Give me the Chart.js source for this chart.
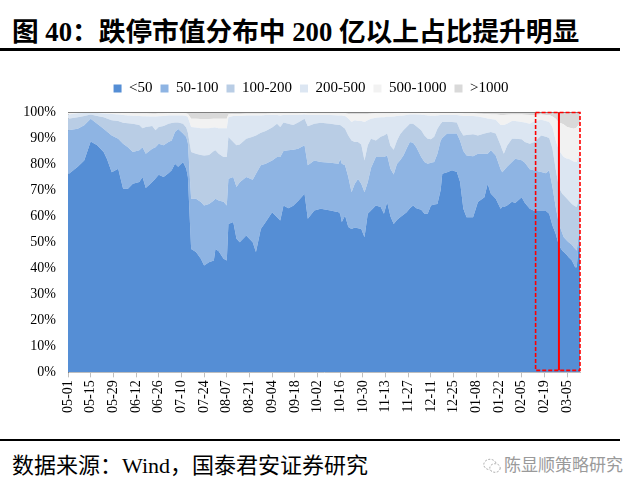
<!DOCTYPE html>
<html>
<head>
<meta charset="utf-8">
<script src="https://cdn.jsdelivr.net/npm/chart.js@4.4.0/dist/chart.umd.min.js"></script>
<style>
  body { margin: 0; background: #fff; width: 642px; height: 491px; position: relative; overflow: hidden; }
  #title { position: absolute; left: 12px; top: 10px; font: bold 26.7px "Liberation Serif", "Noto Sans CJK SC", serif; color: #000; white-space: nowrap; }
  .rule { position: absolute; left: 0; width: 620px; background: #000; }
  #chart { position: absolute; left: 0; top: 66px; }
  #source { position: absolute; left: 12px; top: 447px; font: 22px "Liberation Serif", "Noto Sans CJK SC", serif; color: #000; white-space: nowrap; }
  #mark { position: absolute; left: 483px; top: 451px; font: 17px "Noto Sans CJK SC", sans-serif; color: #9a9a9a; white-space: nowrap; }
  #mark svg { vertical-align: -3px; margin-right: 3px; }
</style>
</head>
<body>
<div id="title">图 40：跌停市值分布中 200 亿以上占比提升明显</div>
<div class="rule" style="top:48px;height:3px"></div>
<canvas id="chart" width="600" height="352"></canvas>
<div class="rule" style="top:439px;height:2px"></div>
<div id="source">数据来源：Wind，国泰君安证券研究</div>
<div id="mark"><svg width="18" height="16" viewBox="0 0 18 16"><ellipse cx="7" cy="6.5" rx="6.2" ry="5.2" fill="none" stroke="#aaa" stroke-width="1" stroke-dasharray="2 1.5"/><ellipse cx="12" cy="10" rx="5.2" ry="4.3" fill="#fff" stroke="#aaa" stroke-width="1" stroke-dasharray="2 1.5"/></svg>陈显顺策略研究</div>

<script>
// x = days since 05-01 (start of the sample), labels every 14 days
const startDate = Date.UTC(2022, 4, 1);
const days = [0,6,10,14,18,22,24,27,31,34,
  37,40,44,46,48,52,54,56,59,62,
  64,66,68,71,73,74,76,79,82,84,
  87,90,91,93,96,98,99,102,104,106,
  110,114,116,119,122,126,129,131,133,136,
  139,142,146,148,152,156,162,167,168,169,
  171,173,175,177,179,181,183,185,187,190,
  193,195,197,199,201,203,205,207,209,211,
  213,215,218,220,222,224,226,228,230,231,
  234,237,240,242,244,246,250,253,257,259,
  261,264,267,268,269,271,274,276,280,282,
  285,288,292,295,297,299,301,303,305,306,
  308,309,311,312,313,314,315,316];

// share of limit-down market value by cap bucket (%)
const lt50 = [76,79,81.4,88.7,87.2,84.6,82,76.9,78.2,70.5,
  70.5,72.4,73.1,75,70.8,73.1,74.5,75.9,75,76.5,
  77.6,80.1,79,80.8,78.2,75,47.4,46.2,43.6,41,
  42.3,43,47.4,46.5,43.6,43,57,57.7,51.3,50,
  52.6,50,46.2,55.1,57.7,61.5,59.6,58.3,64.1,63,
  64,65.8,68.6,59,62.2,62.8,62.2,61.5,60.9,57.7,
  60.2,55.8,55.1,55.6,55.3,55.1,51.9,60.9,62.2,64.1,
  63.5,60.9,65.4,60,57,58.5,59.6,60.5,61.5,63,
  64.1,63,62.5,60.9,60.9,64.1,64.5,64.7,70,76.3,
  76.9,77.6,77,73.1,62.8,59.6,59.6,65.4,67.3,72.4,
  68.6,66.7,62.8,63.5,63.5,64.1,65.5,65,67.3,65,
  62.8,62,62,62,60.9,56.4,53.2,48.7,46.8,46.2,
  45,44.2,43,41.7,40.4,40.4,48,50];
const s50to100 = [17,14.6,13.5,8.7,8.3,9,10.5,14.1,11.5,17.3,
  16,12.2,12.2,11.5,13.2,12.8,12,11.9,12.2,12,
  11.5,12.2,14.5,10.9,12.2,13,19.3,20.5,21.8,23.1,
  22.4,23,19.3,19.5,21.9,21.1,17.4,17.3,19.9,23,
  22.4,24,30.1,24.4,22.4,19.9,23.1,24.4,20.9,22.3,
  21.5,20.1,18.6,20.5,19.2,18,18.3,18.6,21.1,22.4,
  19.3,19.2,14.1,16.8,19,17.3,17.3,12.1,16.3,18.6,
  19.2,21.8,17.9,18.2,19,21.5,21.9,22.8,24.5,25.5,
  24.1,23.5,20.2,19.9,19.2,16.4,16.3,19.3,19.1,13.7,
  14.8,14.1,14.7,15.9,22.2,23.7,23.4,18.6,16.7,11.6,
  16.7,16.6,15.2,13.4,14,14.9,15.3,17,14.2,15.5,
  15.2,15.5,15,14.5,16.7,14.8,10.3,8.3,6.7,5.7,
  5.5,5.8,6,6.4,7.1,6.4,4,4.5];
const s100to200 = [4.4,4.4,3.6,1.6,3,4.4,5,5.8,6.8,8.1,
  9.2,10.9,9.7,7.3,10.2,8.7,6.5,6.4,7.4,7,
  6.7,3.7,2.5,3.8,3.6,4,17.9,17.3,18.1,19.2,
  18.8,19,18.6,18,17.2,18.6,16,13.5,16,14.5,
  14.7,16.5,14.7,12.5,12.6,12.6,12.8,11.5,11,10.2,
  9.5,10.1,10.2,15,14.1,15.1,15,14.9,13,14.4,
  14.1,16,19.9,16.1,14.2,15.1,12.2,14.2,11.2,6.4,
  7.8,8.3,8.4,8.8,9.5,9,10,9.7,8.2,7,
  7.3,8,10.3,10.2,9.6,9,9.7,9.6,6.4,6.2,
  4.5,4.5,4.3,4,6,7.9,8.5,7,7.7,8,
  7,8.4,9.2,8.6,6.5,8,8.9,7.7,8,8,
  9.8,11,14,14,12.4,14.8,14.5,14,15.1,16.1,
  16.2,16,15.7,16.1,16.3,16.7,14,15.4];
const s200to500 = [1.6,1.5,1.1,0.8,1.1,1.4,1.8,2.4,2.5,2.9,
  3,3.1,3.5,4.6,4.2,3.7,5.3,4.2,3.9,3.2,
  2.9,2.7,2.7,3.2,4.5,6,9.6,10,10.3,10.5,
  10.3,9,8.7,9.8,11.1,11.1,7.6,10,11.3,11,
  9,8.2,7.7,6.7,6.1,4.8,3.3,4.5,2.8,3.3,
  3.8,2.8,1.6,4.3,3.3,2.9,3.3,3.7,3.7,4.2,
  4.9,6.5,7.1,8.3,8,9,14.8,9.6,7.7,8.7,
  7.5,7,6.5,11.2,12.8,9.5,7.1,5.7,4.6,3.5,
  3.5,4.5,5.9,7.8,9,9.1,8.1,5.1,3.3,2.6,
  2.6,2.6,2.8,5.7,7.5,7.3,7,7.3,6.1,5.5,
  5,5.3,7.8,9.5,11,8.5,6.8,6.8,6.7,7.5,
  7.7,8,6,6,6.2,8.2,11.1,14.3,14.9,14.7,
  15.3,16,16.7,16.8,17,17.3,17,15.1];
const s500to1000 = [0.6,0.3,0.2,0.1,0.2,0.3,0.4,0.4,0.6,0.7,
  0.8,0.8,0.9,1,1,1,1,1,0.9,0.8,
  0.8,0.8,0.8,0.8,0.9,1.2,3.2,3.4,3.5,3.5,
  3.5,3.4,3.4,3.6,3.6,3.6,1,0.7,0.7,0.7,
  0.6,0.6,0.6,0.6,0.5,0.6,0.6,0.7,0.6,0.6,
  0.6,0.6,0.5,0.6,0.6,0.6,0.6,0.7,0.7,0.7,
  0.9,1.7,3,2.4,2.7,2.7,3,2.4,1.9,1.6,
  1.4,1.4,1.2,1.2,1.1,1,0.9,0.8,0.7,0.5,
  0.5,0.5,0.6,0.7,0.8,0.9,0.9,0.8,0.7,0.7,
  0.7,0.7,0.7,0.8,0.9,0.9,0.9,1,1.4,1.6,
  1.7,2,3.8,3.8,3.8,3.4,2.5,2.5,2.8,2.9,
  3.3,2.3,2,2.3,2.6,4.1,8.3,10.7,12,12.5,
  12.2,12,12.4,12.6,13,13.2,12,10.5];
const gt1000 = [0.4,0.2,0.2,0.1,0.2,0.3,0.3,0.4,0.4,0.5,
  0.5,0.6,0.6,0.6,0.6,0.7,0.7,0.6,0.6,0.5,
  0.5,0.5,0.5,0.5,0.6,0.8,2.6,2.6,2.7,2.7,
  2.7,2.6,2.6,2.6,2.6,2.6,1,0.8,0.8,0.8,
  0.7,0.7,0.7,0.7,0.7,0.6,0.6,0.6,0.6,0.6,
  0.6,0.6,0.5,0.6,0.6,0.6,0.6,0.6,0.6,0.6,
  0.6,0.8,0.8,0.8,0.8,0.8,0.8,0.8,0.7,0.6,
  0.6,0.6,0.6,0.6,0.6,0.5,0.5,0.5,0.5,0.5,
  0.5,0.5,0.5,0.5,0.5,0.5,0.5,0.5,0.5,0.5,
  0.5,0.5,0.5,0.5,0.6,0.6,0.6,0.7,0.8,0.9,
  1,1,1.2,1.2,1.2,1.1,1,1,1,1.1,
  1.2,1.2,1,1.2,1.2,1.7,2.6,4,4.5,4.8,
  5.8,6,6.2,6.4,6.2,6,5,4.5];

const seriesNames = ['<50', '50-100', '100-200', '200-500', '500-1000', '>1000'];
const seriesData = [lt50, s50to100, s100to200, s200to500, s500to1000, gt1000];
const colors = ['#558ED5', '#8EB4E3', '#B9CDE5', '#DCE6F2', '#F2F2F2', '#D9D9D9'];

// highlighted window (red boxes), in days
const boxLeft = 288.6, boxMid = 303, boxRight = 316;

const fmtDay = (v) => {
    const d = new Date(startDate + v * 86400000);
    return String(d.getUTCMonth() + 1).padStart(2, '0') + '-' + String(d.getUTCDate()).padStart(2, '0');
};

// a little more room under the legend, and centre it over the plot
const legendGap = {
    id: 'legendGap',
    beforeInit(chart) {
        const fit = chart.legend.fit;
        chart.legend.fit = function () {
            fit.call(this);
            this.height += 6;
        };
    },
    afterLayout(chart) {
        chart.legend.left += 11;
        chart.legend.right += 11;
    }
};

const frame = {
    id: 'frame',
    afterDatasetsDraw(chart) {
        const { ctx, chartArea: a, scales: { x, y } } = chart;
        ctx.save();
        // top border of the plot
        ctx.strokeStyle = '#7f7f7f';
        ctx.lineWidth = 1;
        ctx.beginPath();
        ctx.moveTo(a.left, a.top + 0.5);
        ctx.lineTo(a.right, a.top + 0.5);
        ctx.stroke();
        // red highlight boxes
        const l = x.getPixelForValue(boxLeft), m = x.getPixelForValue(boxMid), r = x.getPixelForValue(boxRight);
        const t = y.getPixelForValue(100) + 0.5, b = y.getPixelForValue(0) - 2;
        ctx.strokeStyle = '#FF0000';
        ctx.lineWidth = 1.6;
        ctx.setLineDash([4, 2]);
        ctx.strokeRect(l, t, r - l, b - t);
        ctx.setLineDash([]);
        ctx.lineWidth = 2;
        ctx.beginPath();
        ctx.moveTo(m, t);
        ctx.lineTo(m, b);
        ctx.stroke();
        ctx.restore();
    }
};

new Chart(document.getElementById('chart'), {
    type: 'line',
    data: {
        datasets: seriesNames.map((name, i) => ({
            label: name,
            data: days.map((d, k) => ({ x: d, y: seriesData[i][k] })),
            backgroundColor: colors[i],
            borderColor: colors[i],
            borderWidth: 0,
            pointRadius: 0,
            fill: i === 0 ? 'origin' : '-1'
        }))
    },
    options: {
        responsive: false,
        animation: false,
        devicePixelRatio: 1,
        layout: { padding: { left: 20, right: 20, top: 7, bottom: 2 } },
        plugins: {
            tooltip: { enabled: false },
            legend: {
                position: 'top',
                labels: {
                    boxWidth: 8,
                    boxHeight: 8,
                    padding: 8,
                    color: '#000',
                    font: { family: 'Liberation Serif', size: 15 }
                }
            }
        },
        scales: {
            x: {
                type: 'linear',
                min: 0,
                max: 316,
                grid: { display: true, drawOnChartArea: false, tickLength: 5, color: '#bfbfbf' },
                border: { color: '#bfbfbf' },
                ticks: {
                    stepSize: 14,
                    includeBounds: false,
                    autoSkip: false,
                    minRotation: 90,
                    maxRotation: 90,
                    padding: 3,
                    color: '#000',
                    font: { family: 'Liberation Serif', size: 14 },
                    callback: (v) => fmtDay(v)
                }
            },
            y: {
                stacked: true,
                min: 0,
                max: 100,
                afterFit: (s) => { s.width = 48; },
                grid: { display: false, drawTicks: false },
                border: { color: '#7f7f7f' },
                ticks: {
                    stepSize: 10,
                    padding: 12,
                    color: '#000',
                    font: { family: 'Liberation Serif', size: 14 },
                    callback: (v) => v + '%'
                }
            }
        }
    },
    plugins: [legendGap, frame]
});
</script>
</body>
</html>
